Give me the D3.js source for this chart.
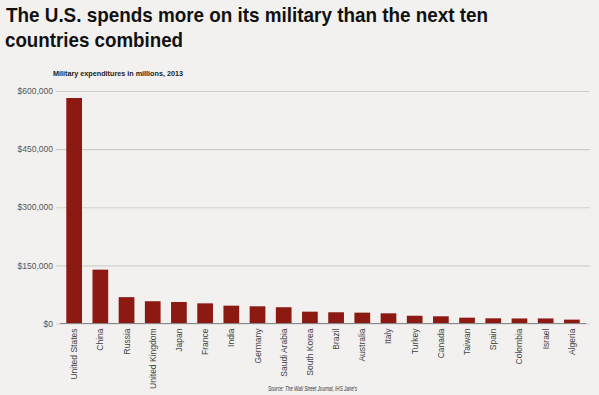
<!DOCTYPE html>
<html>
<head>
<meta charset="utf-8">
<script src="https://cdn.jsdelivr.net/npm/d3@7"></script>
<style>
  body { margin: 0; background: #f2f1ef; }
  svg { display: block; font-family: "Liberation Sans", Arial, sans-serif; }
</style>
</head>
<body>
<div id="chart"></div>
<script>
const countries = ["United States", "China", "Russia", "United Kingdom", "Japan", "France", "India",
    "Germany", "Saudi Arabia", "South Korea", "Brazil", "Australia", "Italy", "Turkey", "Canada",
    "Taiwan", "Spain", "Colombia", "Israel", "Algeria"];
const spending = [582000, 139000, 68000, 57500, 55500, 52000, 46000, 44400, 42000, 30500,
    29000, 28000, 26300, 20000, 18600, 15000, 13400, 13000, 13000, 10000];
const yTicks = [0, 150000, 300000, 450000, 600000];

function createChart() {
    const width = 599;
    const height = 395;
    const plot = { left: 60, right: 586, top: 91, bottom: 323.5 };

    const svg = d3.select("#chart").append("svg")
        .attr("width", width)
        .attr("height", height);

    svg.append("rect")
        .attr("width", width)
        .attr("height", height)
        .attr("fill", "#f2f1ef");

    // Title (two lines, squeezed to the original width)
    const title = svg.append("g")
        .style("font-size", "21px")
        .style("font-weight", "bold")
        .attr("fill", "#111");
    title.append("text").attr("x", 6).attr("y", 22)
        .attr("textLength", 482)
        .attr("lengthAdjust", "spacingAndGlyphs")
        .text("The U.S. spends more on its military than the next ten");
    title.append("text").attr("x", 5).attr("y", 47)
        .attr("textLength", 178)
        .attr("lengthAdjust", "spacingAndGlyphs")
        .text("countries combined");

    svg.append("text")
        .attr("x", 53)
        .attr("y", 76)
        .attr("textLength", 130)
        .attr("lengthAdjust", "spacingAndGlyphs")
        .style("font-size", "8px")
        .style("font-weight", "bold")
        .attr("fill", "#222")
        .text("Military expenditures in millions, 2013");

    // Scales
    const x = d3.scaleBand()
        .domain(countries)
        .range([plot.left, plot.right])
        .paddingInner(0.4)
        .paddingOuter(0.24);

    const y = d3.scaleLinear()
        .domain([0, 600000])
        .range([plot.bottom, plot.top]);

    // Gridlines + y labels
    const yAxis = svg.append("g")
        .attr("transform", `translate(${plot.left}, 0)`)
        .call(d3.axisLeft(y)
            .tickValues(yTicks)
            .tickSize(-(plot.right - plot.left + 4))
            .tickPadding(7)
            .tickFormat(d => "$" + d3.format(",")(d)));
    yAxis.select(".domain").remove();
    yAxis.selectAll(".tick line")
        .attr("x1", -4)
        .attr("stroke", "#cfcfcf")
        .attr("stroke-width", 1.2);
    yAxis.selectAll(".tick text")
        .attr("fill", "#555")
        .style("font-size", "8.5px");

    // Bars
    svg.append("g")
        .selectAll("rect")
        .data(countries)
        .enter()
        .append("rect")
        .attr("x", d => x(d))
        .attr("width", x.bandwidth())
        .attr("y", (d, i) => y(spending[i]))
        .attr("height", (d, i) => y(0) - y(spending[i]))
        .attr("fill", "#8c1a13");

    // Base axis
    svg.append("line")
        .attr("x1", plot.left)
        .attr("x2", plot.right)
        .attr("y1", y(0))
        .attr("y2", y(0))
        .attr("stroke", "#888")
        .attr("stroke-width", 1.2);

    // X labels (rotated)
    svg.append("g")
        .selectAll("text")
        .data(countries)
        .enter()
        .append("text")
        .attr("transform", d => `translate(${x(d) + x.bandwidth() / 2 + 3}, ${plot.bottom + 5}) rotate(-90)`)
        .attr("text-anchor", "end")
        .style("font-size", "8.5px")
        .attr("fill", "#444")
        .text(d => d);

    // Source
    svg.append("text")
        .attr("x", 268)
        .attr("y", 391)
        .attr("textLength", 89)
        .attr("lengthAdjust", "spacingAndGlyphs")
        .style("font-size", "6.5px")
        .style("font-style", "italic")
        .attr("fill", "#333")
        .text("Source: The Wall Street Journal, IHS Jane's");
}

createChart();
</script>
</body>
</html>
